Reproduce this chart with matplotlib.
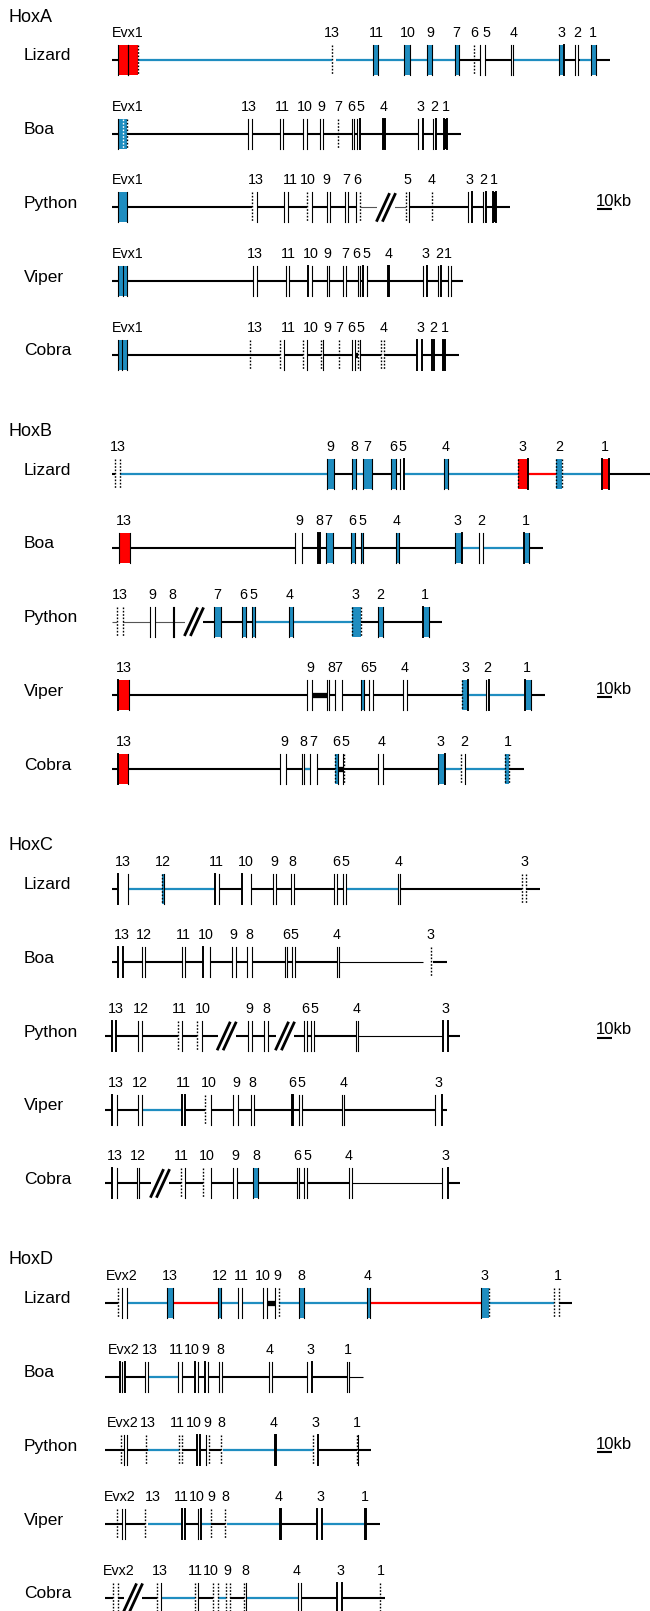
import matplotlib
matplotlib.use("Agg")
import matplotlib.pyplot as plt
from matplotlib.patches import Rectangle

plt.rcParams['font.family'] = ['Liberation Sans', 'DejaVu Sans']

# ---- couleurs -------------------------------------------------
BLEU = "#1f8dc0"
ROUGE = "#ff0000"
FILL = {"w": "white", "b": BLEU, "r": ROUGE, "k": "black"}
LINE = {"k": ("black", 1.5), "b": (BLEU, 1.6), "r": (ROUGE, 1.6),
        "t": ("black", 0.8), "K": ("black", 3.8), "g": ("#555555", 0.8)}

CLUSTERS = ["HoxA", "HoxB", "HoxC", "HoxD"]
SPECIES = ["Lizard", "Boa", "Python", "Viper", "Cobra"]
SCALE_ROW = [2, 3, 2, 2]          # ligne portant l'échelle 10kb

# position le long du cluster (1 unité = 10/15 kb)
# gènes : (étiquette, x étiquette, début, fin, remplissage, bord gauche, bord droit)
# bords : s = trait, S = trait épais, d = pointillé, x = pointillé blanc
# ---------------- HoxA ----------------
HOXA_LIZARD = [("Evx1", 128, 118.3, 128.3, "r", "s", "s"), ("", 0, 128.3, 138.3, "r", "s", "d"),
               ("13", 331.7, 331.7, 331.7, "n", "d", "d"), ("11", 376, 373.3, 378.3, "b", "s", "s"),
               ("10", 408, 404.3, 410, "b", "s", "s"), ("9", 430, 426.7, 431.7, "b", "s", "s"),
               ("7", 456.7, 455, 459.3, "b", "s", "s"), ("6", 474, 474, 474, "n", "d", "d"),
               ("5", 486, 480, 485, "w", "s", "s"), ("4", 514, 510.7, 513.3, "w", "s", "s"),
               ("3", 561.7, 559.3, 564, "b", "s", "S"), ("2", 577.3, 575, 577.7, "w", "s", "s"),
               ("1", 593.3, 590.7, 595.7, "b", "s", "s")]
HOXA_LIZARD_LINE = [(111.7, 118.3, "k"), (138.3, 331.7, "b"), (336, 459, "b"), (459, 510.7, "k"),
                    (513.3, 559.3, "b"), (564, 580, "k"), (580, 590.7, "b"), (595.7, 610, "k")]
HOXA_BOA = [("Evx1", 128, 118.3, 127.3, "b", "s", "d"), ("", 0, 122.7, 122.7, "n", "x", "x"),
            ("13", 249.3, 247.7, 252, "w", "s", "s"), ("11", 282.7, 280, 283.3, "w", "s", "s"),
            ("10", 305, 302.7, 306.7, "w", "s", "s"), ("9", 321, 320, 322.7, "w", "s", "s"),
            ("7", 338.3, 338.3, 338.3, "n", "d", "d"), ("6", 351.7, 351.7, 354, "w", "s", "s"),
            ("5", 360.7, 357.3, 360, "w", "s", "S"), ("4", 383.3, 382.7, 384.7, "k", "S", "S"),
            ("3", 420, 418.3, 423.3, "w", "s", "S"), ("2", 434.3, 433.3, 436, "w", "s", "S"),
            ("1", 446, 444.3, 446.7, "k", "S", "S")]
HOXA_BOA_LINE = [(111.7, 460.7, "k")]
HOXA_PYTHON = [("Evx1", 128, 118.3, 127.3, "b", "s", "s"), ("13", 256, 251.7, 256.7, "w", "d", "s"),
               ("11", 290, 284, 288, "w", "s", "s"), ("10", 308.3, 307, 311.7, "w", "d", "s"),
               ("9", 326.7, 326.7, 330, "w", "s", "s"), ("7", 346, 345, 348.3, "w", "s", "s"),
               ("6", 357.7, 356, 360, "w", "s", "d"), ("5", 407.3, 406, 409.3, "w", "d", "s"),
               ("4", 431.7, 431.7, 431.7, "n", "d", "d"), ("3", 469.3, 467.7, 471.7, "w", "s", "S"),
               ("2", 483.3, 482.7, 486, "w", "s", "S"), ("1", 494, 493.3, 496, "k", "S", "S")]
HOXA_PYTHON_LINE = [(111.7, 360, "k"), (360, 406, "g"), (409.3, 509.5, "k")]
HOXA_VIPER = [("Evx1", 128, 118.3, 126.7, "b", "s", "s"), ("", 0, 122.5, 122.5, "n", "s", "s"),
              ("13", 255, 253.3, 256.7, "w", "s", "s"), ("11", 288.3, 286, 289.3, "w", "s", "s"),
              ("10", 310.7, 308.3, 312.3, "w", "S", "s"), ("9", 327.7, 326.7, 329.3, "w", "s", "s"),
              ("7", 345, 343.3, 346, "w", "s", "s"), ("6", 356.7, 357.7, 360, "w", "s", "s"),
              ("5", 366.7, 363.3, 366.7, "w", "S", "s"), ("4", 388.3, 387.7, 389, "k", "S", "S"),
              ("3", 425, 422.7, 426.7, "w", "s", "S"), ("2", 439.3, 438.3, 440.7, "w", "s", "S"),
              ("1", 448.3, 448.3, 450.7, "w", "s", "s")]
HOXA_VIPER_LINE = [(111.7, 463.3, "k")]
HOXA_COBRA = [("Evx1", 128, 118.3, 126.7, "b", "s", "s"), ("", 0, 122, 122, "n", "s", "s"),
              ("13", 255, 250, 250, "n", "d", "d"), ("11", 288.3, 280, 284.3, "w", "d", "s"),
              ("10", 310.7, 302.7, 306.7, "w", "d", "s"), ("9", 327.7, 321, 323.3, "w", "d", "s"),
              ("7", 339.3, 339.3, 339.3, "n", "d", "d"), ("6", 351.7, 351.7, 355, "w", "s", "s"),
              ("5", 360.7, 358.3, 360, "w", "d", "s"), ("4", 383.3, 380.7, 384, "w", "d", "d"),
              ("3", 420, 416.7, 421.7, "w", "S", "S"), ("2", 433.3, 431.7, 434.3, "w", "S", "S"),
              ("1", 445, 443.3, 445, "k", "S", "S")]
HOXA_COBRA_LINE = [(111.7, 459.3, "k"), (355, 358.3, "K")]

# ---------------- HoxB ----------------
HOXB_LIZARD = [("13", 118.3, 115, 120, "w", "d", "d"), ("9", 330, 326.7, 334.3, "b", "s", "s"),
               ("8", 354.3, 351.7, 356, "b", "s", "s"), ("7", 367.7, 363.3, 372.3, "b", "s", "s"),
               ("6", 393.3, 390.7, 396, "b", "s", "s"), ("5", 402.7, 400, 404, "w", "s", "S"),
               ("4", 445.7, 444, 448.3, "b", "s", "s"), ("3", 522.3, 517.7, 528.3, "r", "d", "S"),
               ("2", 559.3, 555.7, 561.7, "b", "d", "d"), ("1", 605, 601.7, 609.3, "r", "S", "S")]
HOXB_LIZARD_LINE = [(111.7, 115, "k"), (120, 326.7, "b"), (334.3, 351.7, "k"), (356, 363.3, "b"),
                    (372.3, 400, "k"), (404, 517.7, "b"), (528.3, 555.7, "r"), (561.7, 601.7, "b"),
                    (609.3, 650, "k")]
HOXB_BOA = [("13", 124, 119.3, 130, "r", "s", "s"), ("9", 299.3, 295, 302.3, "w", "s", "s"),
            ("8", 319, 318.3, 320, "k", "S", "S"), ("7", 328.3, 325.7, 332.7, "b", "s", "s"),
            ("6", 352.3, 350.7, 355, "b", "s", "s"), ("5", 362.7, 360.7, 363.3, "b", "s", "s"),
            ("4", 396.7, 396, 399.3, "b", "s", "s"), ("3", 457.7, 455, 461.7, "b", "s", "S"),
            ("2", 481.7, 479.3, 483.3, "w", "s", "s"), ("1", 526, 524, 529.3, "b", "S", "s")]
HOXB_BOA_LINE = [(111.7, 455, "k"), (461.7, 524, "b"), (529.3, 543.3, "k")]
HOXB_PYTHON = [("13", 120, 117, 122.7, "w", "d", "d"), ("9", 152.7, 150, 155, "w", "s", "s"),
               ("8", 172.7, 172.7, 174, "w", "s", "s"), ("7", 217.3, 214.3, 220.7, "b", "s", "s"),
               ("6", 243.3, 241.7, 245.7, "b", "s", "s"), ("5", 253.3, 251.7, 255, "b", "s", "s"),
               ("4", 290, 289.3, 292.7, "b", "s", "s"), ("3", 355, 351.7, 360.7, "b", "d", "d"),
               ("2", 380, 378.3, 382.7, "b", "s", "s"), ("1", 425, 423.3, 429.3, "b", "S", "s")]
HOXB_PYTHON_LINE = [(111.7, 188, "g"), (200, 255, "k"), (255, 351.7, "b"), (360.7, 442, "k")]
HOXB_VIPER = [("13", 124, 118.3, 129.3, "r", "S", "s"), ("9", 310, 306.7, 312.3, "w", "s", "s"),
              ("8", 331, 327.3, 329.3, "w", "s", "s"), ("7", 338.3, 335, 342.3, "w", "s", "s"),
              ("6", 364, 360.7, 364, "b", "s", "s"), ("5", 372.7, 369.3, 372.7, "w", "s", "s"),
              ("4", 405, 403.3, 407.3, "w", "s", "s"), ("3", 465, 461.7, 468.3, "b", "d", "S"),
              ("2", 487.3, 485.7, 489, "w", "s", "S"), ("1", 527.3, 525, 530.7, "b", "S", "s")]
HOXB_VIPER_LINE = [(111.7, 461.7, "k"), (312.3, 327.3, "K"), (468.3, 525, "b"), (530.7, 545, "k")]
HOXB_COBRA = [("13", 124, 118.3, 128.3, "r", "S", "s"), ("9", 284, 280, 286, "w", "s", "s"),
              ("8", 303.3, 302.3, 304, "w", "s", "s"), ("7", 313.3, 310, 316.7, "w", "s", "s"),
              ("6", 336, 335, 338.3, "b", "d", "s"), ("5", 345.7, 343, 344.3, "w", "s", "d"),
              ("4", 381.7, 378.3, 382.7, "w", "s", "s"), ("3", 440.7, 437.7, 445, "b", "s", "S"),
              ("2", 464, 461, 465, "w", "d", "s"), ("1", 508.3, 505, 509.3, "b", "d", "d")]
HOXB_COBRA_LINE = [(111.7, 437.7, "k"), (304, 310, "b"), (338.3, 343, "K"), (445, 505, "b"),
                   (509.3, 524, "k")]

# ---------------- HoxC ----------------
HOXC_LIZARD = [("13", 122.7, 118.3, 128.3, "w", "S", "s"), ("12", 162.7, 161.7, 164, "b", "d", "s"),
               ("11", 216.7, 215, 219, "w", "S", "s"), ("10", 245.7, 242.3, 250.7, "w", "S", "s"),
               ("9", 274, 272.7, 276, "w", "s", "s"), ("8", 292.3, 290.7, 294, "w", "s", "s"),
               ("6", 336.7, 334.3, 337.3, "w", "s", "s"), ("5", 345, 343.3, 346, "w", "s", "s"),
               ("4", 398.3, 397.7, 400, "w", "s", "s"), ("3", 524, 521.7, 526, "w", "d", "d")]
HOXC_LIZARD_LINE = [(111.7, 128.3, "k"), (128.3, 215, "b"), (219, 346, "k"), (346, 397.7, "b"),
                    (400, 540, "k")]
HOXC_BOA = [("13", 121.7, 118.3, 123.3, "w", "S", "S"), ("12", 144.3, 142.3, 145, "w", "s", "s"),
            ("11", 183.3, 181.7, 185, "w", "s", "s"), ("10", 206, 203.3, 210, "w", "S", "s"),
            ("9", 233.3, 231.7, 235.7, "w", "s", "s"), ("8", 249, 246.7, 251.7, "w", "s", "s"),
            ("6", 286.7, 285, 287.3, "w", "s", "s"), ("5", 294.3, 291.7, 295, "w", "s", "s"),
            ("4", 336.7, 336.7, 339, "w", "s", "s"), ("3", 430, 431, 431, "n", "d", "d")]
HOXC_BOA_LINE = [(111.7, 339, "k"), (339, 423.3, "t"), (433, 446.7, "k")]
HOXC_PYTHON = [("13", 116, 111.7, 116, "w", "S", "S"), ("12", 140.7, 138.3, 141.7, "w", "s", "s"),
               ("11", 179.3, 177.7, 181.7, "w", "d", "s"), ("10", 202.7, 197.3, 201.7, "w", "d", "s"),
               ("9", 249.3, 247.7, 251.7, "w", "s", "s"), ("8", 266, 264.3, 267.7, "w", "s", "s"),
               ("6", 305.7, 304.3, 307.3, "w", "s", "s"), ("5", 314.3, 311, 314, "w", "s", "s"),
               ("4", 356.7, 356, 358.3, "w", "s", "s"), ("3", 445, 443.3, 448.3, "w", "S", "S")]
HOXC_PYTHON_LINE = [(105, 358.3, "k"), (358.3, 443.3, "t"), (448.3, 460, "k")]
HOXC_VIPER = [("13", 116, 111.7, 116.7, "w", "S", "s"), ("12", 140, 138.3, 141.7, "w", "s", "s"),
              ("11", 183.3, 181.7, 185, "w", "S", "S"), ("10", 209.3, 205, 211, "w", "d", "s"),
              ("9", 236.7, 233.3, 238.3, "w", "s", "s"), ("8", 252.7, 250.7, 254, "w", "s", "s"),
              ("6", 292.3, 291.7, 292.7, "k", "S", "S"), ("5", 301.7, 299, 301.7, "w", "s", "s"),
              ("4", 343.3, 341.7, 344, "w", "s", "s"), ("3", 438.3, 435, 441.7, "w", "s", "S")]
HOXC_VIPER_LINE = [(105, 138.3, "k"), (141.7, 181.7, "b"), (185, 446.7, "k")]
HOXC_COBRA = [("13", 115, 111.7, 116.7, "w", "S", "s"), ("12", 137.7, 136.7, 139.3, "w", "s", "s"),
              ("11", 181, 181, 185, "w", "d", "s"), ("10", 206.7, 203.3, 211, "w", "d", "s"),
              ("9", 235, 233.3, 237.3, "w", "s", "s"), ("8", 256, 253.3, 258.3, "b", "s", "s"),
              ("6", 297.3, 296.7, 299, "w", "s", "s"), ("5", 307.3, 304, 306.7, "w", "s", "s"),
              ("4", 348.3, 349.3, 351.7, "w", "s", "s"), ("3", 445, 441.7, 448.3, "w", "s", "S")]
HOXC_COBRA_LINE = [(105, 351.7, "k"), (351.7, 441.7, "t"), (448.3, 460, "k")]

# ---------------- HoxD ----------------
HOXD_LIZARD = [("Evx2", 121.7, 118.3, 118.3, "n", "d", "d"), ("", 0, 121.7, 126.7, "w", "s", "s"),
               ("13", 170, 166.7, 173.3, "b", "s", "s"), ("12", 220, 217.7, 220.7, "b", "s", "s"),
               ("11", 241, 238.3, 241.7, "w", "s", "s"), ("10", 263.3, 262.7, 266.7, "w", "s", "s"),
               ("9", 277.5, 275, 279.3, "w", "s", "d"), ("8", 301.7, 299.3, 304.3, "b", "s", "s"),
               ("4", 367.7, 367.3, 370, "b", "s", "s"), ("3", 484, 480.7, 489.3, "b", "s", "d"),
               ("1", 558.3, 554.3, 559, "w", "d", "d")]
HOXD_LIZARD_LINE = [(105, 118.3, "k"), (126.7, 166.7, "b"), (173.3, 217.7, "r"), (220.7, 262.7, "b"),
                    (266.7, 275, "K"), (279.3, 367.3, "b"), (370, 480.7, "r"), (489.3, 554.3, "b"),
                    (559, 571.7, "k")]
HOXD_BOA = [("Evx2", 124, 120, 125, "w", "S", "S"), ("", 0, 122.3, 122.3, "n", "s", "s"),
            ("13", 149.5, 145, 148.3, "w", "s", "s"), ("11", 176, 178.3, 182.3, "w", "s", "s"),
            ("10", 192, 195, 198.3, "w", "S", "s"), ("9", 205.5, 205, 208.3, "w", "S", "s"),
            ("8", 220, 219.3, 221.7, "w", "s", "s"), ("4", 270, 269, 271.7, "w", "s", "s"),
            ("3", 310.7, 307.3, 312.3, "w", "s", "S"), ("1", 348.3, 346.7, 349, "w", "s", "s")]
HOXD_BOA_LINE = [(105, 148.3, "k"), (148.3, 178.3, "b"), (182.3, 349, "k"), (349, 363.3, "t")]
HOXD_PYTHON = [("Evx2", 122.5, 121, 121, "n", "d", "d"), ("", 0, 124.3, 127.3, "w", "s", "s"),
               ("13", 148.3, 145.7, 145.7, "n", "d", "d"), ("11", 177.5, 179, 181.7, "w", "d", "d"),
               ("10", 193.5, 196.7, 200, "w", "S", "S"), ("9", 207.5, 206, 209, "w", "s", "d"),
               ("8", 221.7, 220.7, 220.7, "n", "d", "d"), ("4", 274, 274.5, 275.5, "k", "S", "S"),
               ("3", 315, 313.3, 318.3, "w", "d", "S"), ("1", 356.7, 356.7, 357.7, "w", "d", "s")]
HOXD_PYTHON_LINE = [(105, 148.3, "k"), (148.3, 179, "b"), (181.7, 220.7, "k"), (223.3, 313.3, "b"),
                    (318.3, 371, "k")]
HOXD_VIPER = [("Evx2", 119.3, 116.7, 116.7, "n", "d", "d"), ("", 0, 121.7, 125, "w", "s", "s"),
              ("13", 153.3, 145, 145, "n", "d", "d"), ("11", 181, 182.3, 185, "w", "S", "S"),
              ("10", 197, 198.3, 201, "w", "s", "S"), ("9", 211, 211, 211, "n", "d", "d"),
              ("8", 225, 225, 225, "n", "d", "d"), ("4", 278.3, 279.5, 280.5, "k", "S", "S"),
              ("3", 320, 317.3, 321.7, "w", "S", "S"), ("1", 365, 364.5, 365.5, "k", "S", "S")]
HOXD_VIPER_LINE = [(105, 145, "k"), (148.3, 182.3, "b"), (185, 198.3, "k"), (201, 211, "b"),
                   (211, 225, "k"), (226.7, 280, "b"), (280, 317.3, "k"), (321.7, 364.3, "b"),
                   (365.5, 380, "k")]
HOXD_COBRA = [("Evx2", 119, 113.3, 117.7, "w", "d", "d"), ("13", 160, 157.3, 160.7, "w", "d", "s"),
              ("11", 195, 195, 198.3, "w", "d", "s"), ("10", 211, 213.3, 218.3, "w", "d", "d"),
              ("9", 227.7, 226, 230, "w", "d", "d"), ("8", 245, 244.3, 246, "w", "d", "s"),
              ("4", 296.7, 298.3, 301, "w", "s", "s"), ("3", 340.7, 337.3, 341.7, "w", "S", "S"),
              ("1", 381, 380, 380, "n", "d", "d")]
HOXD_COBRA_LINE = [(105, 157.3, "k"), (161.7, 195, "b"), (198.3, 213.3, "k"), (218.3, 226, "b"),
                   (230, 244.3, "k"), (246.7, 298.3, "b"), (301, 385, "k")]

# coupures (//) : (cluster, espèce, x)
BREAKS = [(0, 2, 386), (1, 2, 194), (2, 2, 226.7), (2, 2, 285), (2, 4, 160), (3, 4, 133)]

GENES = [[HOXA_LIZARD, HOXA_BOA, HOXA_PYTHON, HOXA_VIPER, HOXA_COBRA],
         [HOXB_LIZARD, HOXB_BOA, HOXB_PYTHON, HOXB_VIPER, HOXB_COBRA],
         [HOXC_LIZARD, HOXC_BOA, HOXC_PYTHON, HOXC_VIPER, HOXC_COBRA],
         [HOXD_LIZARD, HOXD_BOA, HOXD_PYTHON, HOXD_VIPER, HOXD_COBRA]]
LINES = [[HOXA_LIZARD_LINE, HOXA_BOA_LINE, HOXA_PYTHON_LINE, HOXA_VIPER_LINE, HOXA_COBRA_LINE],
         [HOXB_LIZARD_LINE, HOXB_BOA_LINE, HOXB_PYTHON_LINE, HOXB_VIPER_LINE, HOXB_COBRA_LINE],
         [HOXC_LIZARD_LINE, HOXC_BOA_LINE, HOXC_PYTHON_LINE, HOXC_VIPER_LINE, HOXC_COBRA_LINE],
         [HOXD_LIZARD_LINE, HOXD_BOA_LINE, HOXD_PYTHON_LINE, HOXD_VIPER_LINE, HOXD_COBRA_LINE]]

# ---- mise en page ---------------------------------------------
fig = plt.figure(figsize=(6.5, 16.11), dpi=100)
ax = fig.add_axes([0, 0, 1, 1])
ax.set_xlim(0, 650)
ax.set_ylim(1611, 0)
ax.axis("off")

Y0, DY_BLOC, DY_LIGNE, H = 60, 414.3, 73.7, 15


def bord(x, y, code):
    if code == "s":
        ax.plot([x, x], [y - H, y + H], color="black", lw=0.8, zorder=4)
    elif code == "S":
        ax.plot([x, x], [y - H, y + H], color="black", lw=1.4, zorder=4)
    elif code == "d":
        ax.plot([x, x], [y - H, y + H], color="black", lw=1.0, ls=(0, (1.2, 1.2)), zorder=4)
    elif code == "x":
        ax.plot([x, x], [y - H, y + H], color="white", lw=1.0, ls=(0, (1.2, 1.2)), zorder=4)


for b, cluster in enumerate(CLUSTERS):
    ytop = Y0 + b * DY_BLOC
    ax.text(8, ytop - 43, cluster, fontsize=13, va="center", ha="left")
    for r, sp in enumerate(SPECIES):
        y = ytop + r * DY_LIGNE
        ax.text(24, y - 4, sp, fontsize=12.5, va="center", ha="left")
        for x0, x1, c in LINES[b][r]:
            col, lw = LINE[c]
            ax.plot([x0, x1], [y, y], color=col, lw=lw, solid_capstyle="butt", zorder=2)
        for lab, xl, g0, g1, fill, e0, e1 in GENES[b][r]:
            if fill != "n":
                ax.add_patch(Rectangle((g0, y - H), g1 - g0, 2 * H, facecolor=FILL[fill],
                                       edgecolor="none", zorder=3))
            bord(g0, y, e0)
            if g1 > g0:
                bord(g1, y, e1)
            if lab:
                ax.text(xl, y - 27, lab, fontsize=10.3, ha="center", va="center")
        if r == SCALE_ROW[b]:
            ax.text(596, y - 6, "10kb", fontsize=12, ha="left", va="center")
            ax.plot([597, 612], [y + 2, y + 2], color="black", lw=1.5, solid_capstyle="butt")

for b, r, x in BREAKS:
    y = Y0 + b * DY_BLOC + r * DY_LIGNE
    ax.add_patch(Rectangle((x - 9, y - 3), 18, 6, facecolor="white", edgecolor="none", zorder=2.5))
    for dx in (-3, 3):
        ax.plot([x + dx - 6, x + dx + 6], [y + 13, y - 13], color="black", lw=2.0, zorder=5)

plt.savefig("out.png", dpi=100)
plt.close()
